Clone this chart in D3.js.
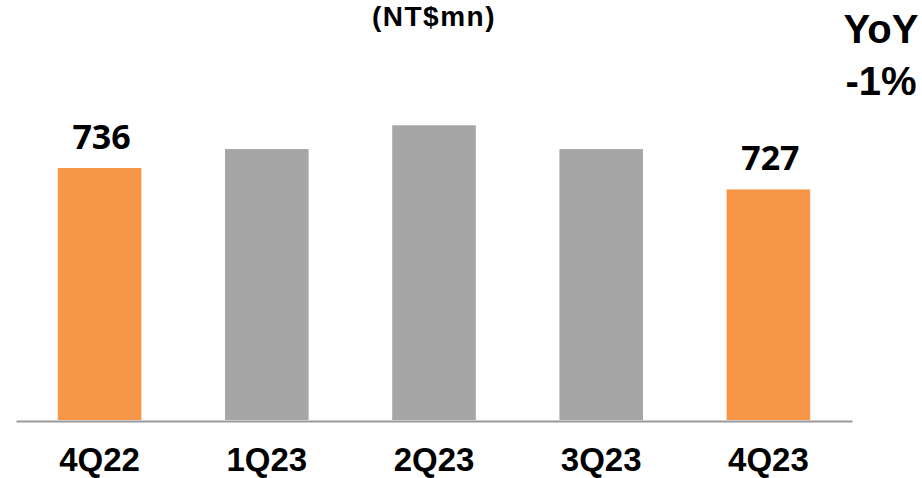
<!DOCTYPE html>
<html>
<head>
<meta charset="utf-8">
<script src="https://cdn.jsdelivr.net/npm/d3@7"></script>
<style>
  html, body { margin: 0; padding: 0; background: #fff; }
  svg { display: block; }
</style>
</head>
<body>
<svg id="chart" width="922" height="478"></svg>
<script>
// Quarterly revenue, NT$ million
const quarters = ["4Q22", "1Q23", "2Q23", "3Q23", "4Q23"];
const revenue = [736, 744, 754, 744, 727];
const labelled = [true, false, false, false, true];   // quarters whose value is printed
const highlight = [true, false, false, false, true];  // year-over-year pair
const unitLabel = "(NT$mn)";
const yoyLines = ["YoY", "-1%"];

const svg = d3.select("#chart");

const x = d3.scaleBand()
  .domain(quarters)
  .range([16, 852])
  .paddingInner(0.5)
  .paddingOuter(0.25);

const y = d3.scaleLinear()
  .domain([630, 760])
  .range([420, 111]);

const data = quarters.map((q, i) => ({
  q, v: revenue[i], label: labelled[i], hi: highlight[i]
}));

// bars
svg.append("g")
  .selectAll("rect")
  .data(data)
  .join("rect")
  .attr("x", d => x(d.q))
  .attr("y", d => y(d.v))
  .attr("width", x.bandwidth())
  .attr("height", d => y.range()[0] - y(d.v))
  .attr("fill", d => d.hi ? "#F79646" : "#A6A6A6");

// baseline axis with category labels
const xAxis = d3.axisBottom(x).tickSize(0).tickPadding(0);
const gx = svg.append("g")
  .attr("transform", `translate(0,${y.range()[0] + 1})`)
  .call(xAxis);
gx.select(".domain")
  .attr("stroke", "#999999")
  .attr("stroke-width", 2);
gx.selectAll(".tick text")
  .attr("dy", null)
  .attr("y", 50)
  .attr("fill", "#000")
  .style("font-family", "'Liberation Sans', Arial, sans-serif")
  .style("font-weight", "700")
  .style("font-size", "33px");

// value labels
svg.append("g")
  .selectAll("text")
  .data(data.filter(d => d.label))
  .join("text")
  .attr("x", d => x(d.q) + x.bandwidth() / 2 + 2)
  .attr("y", d => y(d.v) - 19)
  .attr("text-anchor", "middle")
  .style("font-family", "'Open Sans', sans-serif")
  .style("font-weight", "700")
  .style("font-size", "34px")
  .attr("fill", "#000")
  .text(d => d.v);

// unit caption
svg.append("text")
  .attr("x", 434)
  .attr("y", 26)
  .attr("text-anchor", "middle")
  .style("font-family", "'Liberation Sans', Arial, sans-serif")
  .style("font-weight", "700")
  .style("font-size", "28px")
  .style("letter-spacing", "1.5px")
  .attr("fill", "#000")
  .text(unitLabel);

// year-over-year note
svg.append("g")
  .selectAll("text")
  .data(yoyLines)
  .join("text")
  .attr("x", 881)
  .attr("y", (d, i) => 43 + i * 52)
  .attr("text-anchor", "middle")
  .style("font-family", "'Liberation Sans', Arial, sans-serif")
  .style("font-weight", "700")
  .style("font-size", "40px")
  .attr("fill", "#000")
  .text(d => d);
</script>
</body>
</html>
